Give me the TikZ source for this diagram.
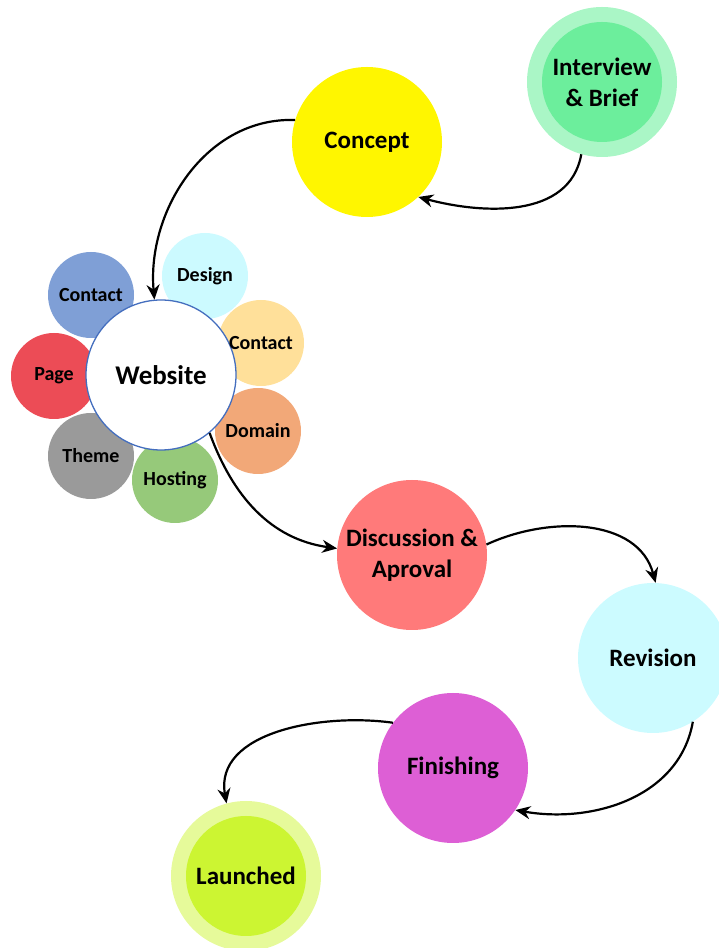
\documentclass[tikz,border=0pt]{standalone}
\usepackage{fontspec}
\setmainfont{Carlito}
\usetikzlibrary{arrows.meta}
\definecolor{briefout}{RGB}{170,246,198}
\definecolor{briefin}{RGB}{108,238,156}
\definecolor{conceptcol}{RGB}{255,246,0}
\definecolor{webline}{RGB}{68,110,190}
\definecolor{designcol}{RGB}{204,250,255}
\definecolor{contactacol}{RGB}{127,159,214}
\definecolor{contactbcol}{RGB}{255,224,154}
\definecolor{pagecol}{RGB}{236,76,86}
\definecolor{domaincol}{RGB}{242,168,120}
\definecolor{themecol}{RGB}{154,154,154}
\definecolor{hostingcol}{RGB}{150,201,122}
\definecolor{discol}{RGB}{255,122,122}
\definecolor{revcol}{RGB}{204,251,255}
\definecolor{fincol}{RGB}{221,95,213}
\definecolor{launchout}{RGB}{230,250,154}
\definecolor{launchin}{RGB}{204,245,50}
\tikzset{
  stage/.style={circle,minimum size=150pt,inner sep=0pt,align=center,
    font=\bfseries\fontsize{25}{31}\selectfont},
  core/.style={circle,minimum size=120pt,inner sep=0pt,align=center,
    font=\bfseries\fontsize{25}{31}\selectfont},
  part/.style={circle,minimum size=86pt,inner sep=0pt},
  partlabel/.style={font=\bfseries\fontsize{20}{24}\selectfont},
  flow/.style={line width=2.2pt,-{Stealth[length=15pt,width=13pt]}}
}
\begin{document}
\begin{tikzpicture}[x=1pt,y=1pt]
\useasboundingbox (0,0) rectangle (718,948);
% main stages
\node[stage,fill=briefout] (brief) at (602,866) {};
\node[core,fill=briefin] (briefcore) at (brief) {Interview\\\& Brief};
\node[stage,fill=conceptcol] (concept) at (367,806) {Concept};
\node[stage,fill=discol] (discussion) at (412,393) {Discussion \&\\Aproval};
\node[stage,fill=revcol] (revision) at (653,290) {Revision};
\node[stage,fill=fincol] (finishing) at (453,180) {Finishing};
\node[stage,fill=launchout] (launched) at (246,72) {};
\node[core,fill=launchin] (launchcore) at (launched) {Launched};
% parts round the website
\node[part,fill=designcol] (design) at (205,672) {};
\node[part,fill=contactacol] (contacta) at (91,653) {};
\node[part,fill=pagecol] (page) at (54,572) {};
\node[part,fill=themecol] (theme) at (91,492) {};
\node[part,fill=hostingcol] (hosting) at (175,468) {};
\node[part,fill=domaincol] (domain) at (258,517) {};
\node[part,fill=contactbcol] (contactb) at (261,605) {};
\node[circle,minimum size=150pt,inner sep=0pt,fill=white,draw=webline,line width=1.3pt,
  font=\bfseries\fontsize{27}{31}\selectfont] (website) at (161,573) {Website};
\node[partlabel] at (design) {Design};
\node[partlabel] at (contacta) {Contact};
\node[partlabel] at (page) {Page};
\node[partlabel] at (theme) {Theme};
\node[partlabel] at (hosting) {Hosting};
\node[partlabel] at (domain) {Domain};
\node[partlabel] at (contactb) {Contact};
% flow
\draw[flow] (brief.254) to[out=260,in=-15] (concept.-47);
\draw[flow] (concept.163) to[out=178,in=95] (website.95);
\draw[flow] (website.-50) to[out=-70,in=172] (discussion.175);
\draw[flow] (discussion.8) to[out=25,in=105] (revision.88);
\draw[flow] (revision.-58) to[out=-100,in=-10] (finishing.-34);
\draw[flow] (finishing.143) to[out=172,in=100] (launched.105);
\end{tikzpicture}
\end{document}
